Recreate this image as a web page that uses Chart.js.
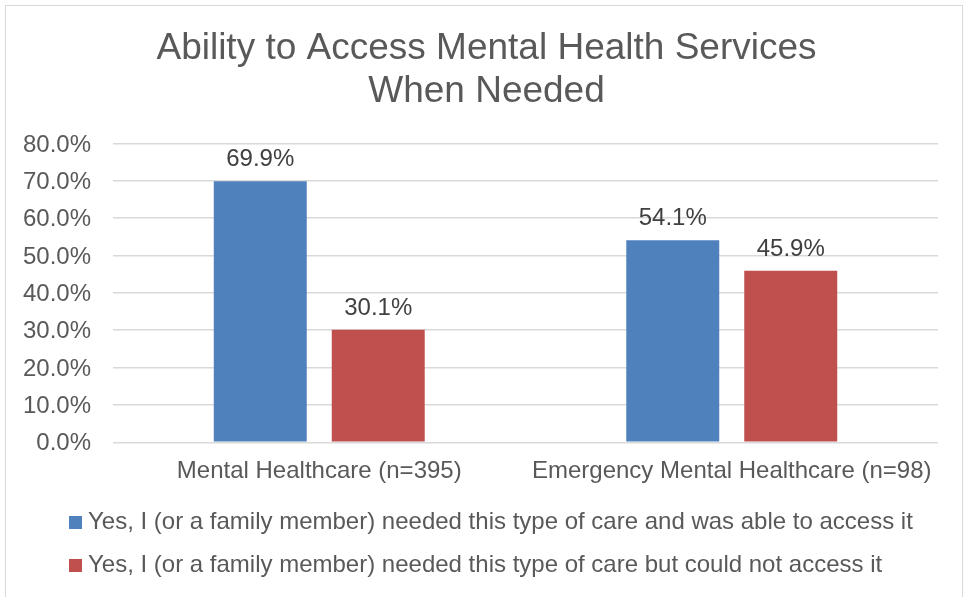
<!DOCTYPE html>
<html>
<head>
<meta charset="utf-8">
<script src="https://cdn.jsdelivr.net/npm/chart.js@4/dist/chart.umd.min.js"></script>
<style>
  html, body { margin: 0; padding: 0; background: #fff; }
  body { width: 967px; height: 597px; overflow: hidden; position: relative; }
  #frame { position: absolute; left: 5px; top: 5px; width: 958px; height: 640px; border: 1px solid #d9d9d9; box-sizing: border-box; }
  #wrap { position: absolute; left: 0; top: 0; width: 967px; height: 597px; }
</style>
</head>
<body>
<div id="frame"></div>
<div id="wrap"><canvas id="chart" width="967" height="597"></canvas></div>
<script>
// Survey results: share of respondents per type of care
const categories = ['Mental Healthcare (n=395)', 'Emergency Mental Healthcare (n=98)'];
const ableToAccess = [69.9, 54.1];
const couldNotAccess = [30.1, 45.9];
const seriesNames = [
  'Yes, I (or a family member) needed this type of care and was able to access it',
  'Yes, I (or a family member) needed this type of care but could not access it'
];
const titleLines = ['Ability to Access Mental Health Services', 'When Needed'];
const yMin = 0, yMax = 80, yStep = 10;

const FONT = '"Liberation Sans", Arial, Helvetica, sans-serif';
const BLUE = '#4f81bd';
const RED = '#c0504d';
const TEXT = '#595959';

Chart.defaults.font.family = FONT;
Chart.defaults.color = TEXT;

// small square legend swatches
function swatch(color) {
  const c = document.createElement('canvas');
  c.width = 13; c.height = 13;
  const g = c.getContext('2d');
  g.fillStyle = color;
  g.fillRect(0, 0, 13, 13);
  return c;
}
const swatches = [swatch(BLUE), swatch(RED)];

// value labels above each bar
const valueLabels = {
  id: 'valueLabels',
  afterDatasetsDraw(chart) {
    const ctx = chart.ctx;
    ctx.save();
    ctx.font = '24px ' + FONT;
    ctx.fillStyle = '#404040';
    ctx.textAlign = 'center';
    ctx.textBaseline = 'alphabetic';
    chart.data.datasets.forEach((ds, i) => {
      chart.getDatasetMeta(i).data.forEach((bar, j) => {
        ctx.fillText(ds.data[j].toFixed(1) + '%', bar.x, bar.y - 15);
      });
    });
    ctx.restore();
  }
};

// indent the legend rows and center the title over the frame
const blockPlacement = {
  id: 'blockPlacement',
  afterLayout(chart) {
    chart.legend.left = 56;
    chart.titleBlock.left = 35;
    chart.titleBlock.right = 938;
  }
};

new Chart(document.getElementById('chart'), {
  type: 'bar',
  data: {
    labels: categories,
    datasets: [
      { label: seriesNames[0], data: ableToAccess, backgroundColor: BLUE, borderWidth: 0 },
      { label: seriesNames[1], data: couldNotAccess, backgroundColor: RED, borderWidth: 0 }
    ]
  },
  options: {
    responsive: false,
    animation: false,
    layout: { padding: { left: 0, right: 29, top: 0, bottom: 10 } },
    datasets: {
      bar: { categoryPercentage: 0.572, barPercentage: 0.788 }
    },
    scales: {
      x: {
        grid: { display: false, drawTicks: false },
        border: { display: false },
        ticks: { color: TEXT, font: { size: 24, lineHeight: 1.2 }, padding: 14.8, maxRotation: 0 },
        afterFit(s) { s.height = 48.7; }
      },
      y: {
        min: yMin,
        max: yMax,
        grid: { color: '#d9d9d9', lineWidth: 1.5, drawTicks: false },
        border: { display: false },
        ticks: {
          stepSize: yStep,
          color: TEXT,
          font: { size: 24 },
          padding: 22,
          labelOffset: 1.5,
          callback: v => Number(v).toFixed(1) + '%'
        },
        afterFit(s) { s.width = 113; }
      }
    },
    plugins: {
      title: {
        display: true,
        text: titleLines,
        color: TEXT,
        font: { size: 37, weight: 'normal', lineHeight: 1.162 },
        padding: { top: 27.5, bottom: 30 }
      },
      legend: {
        display: true,
        position: 'bottom',
        align: 'start',
        labels: {
          color: TEXT,
          font: { size: 24 },
          padding: 19,
          usePointStyle: true,
          pointStyleWidth: 1,
          boxHeight: 13,
          generateLabels(chart) {
            const items = Chart.defaults.plugins.legend.labels.generateLabels(chart);
            return items.map((it, i) => Object.assign(it, { pointStyle: swatches[i] }));
          }
        }
      },
      tooltip: { enabled: false }
    }
  },
  plugins: [valueLabels, blockPlacement]
});
</script>
</body>
</html>
